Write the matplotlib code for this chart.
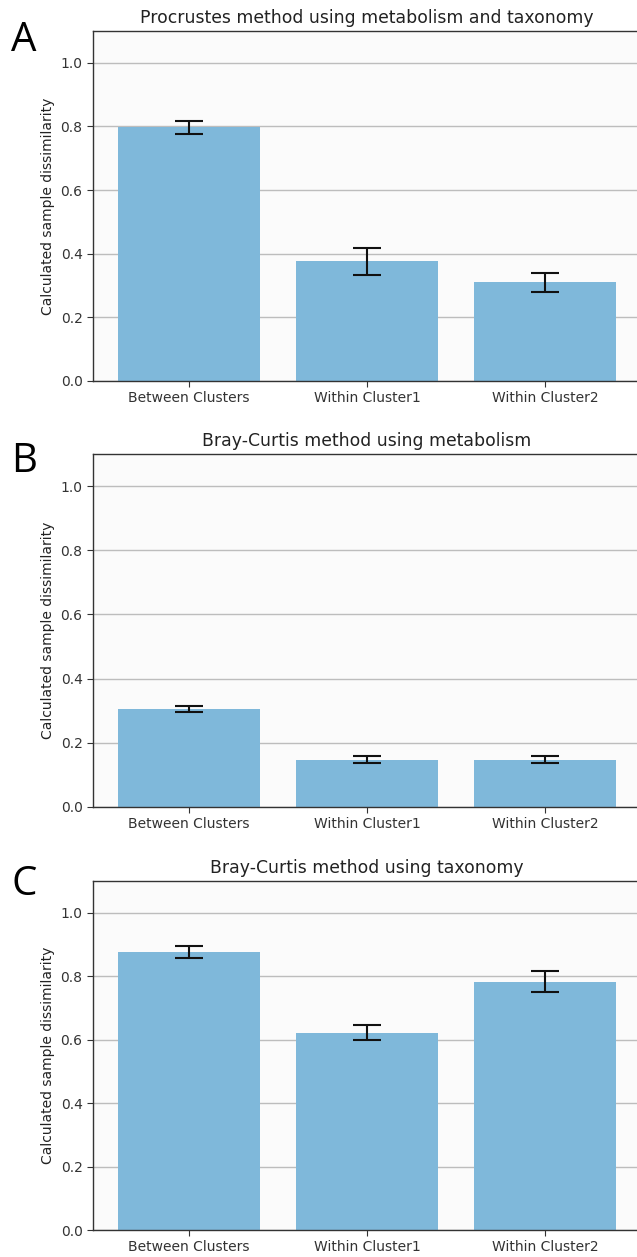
import matplotlib
matplotlib.use("Agg")
import matplotlib.pyplot as plt

categories = ["Between Clusters", "Within Cluster1", "Within Cluster2"]

titles = [
    "Procrustes method using metabolism and taxonomy",
    "Bray-Curtis method using metabolism",
    "Bray-Curtis method using taxonomy",
]
panel_letters = ["A", "B", "C"]

procrustes_means = [0.797, 0.376, 0.311]
procrustes_err = [0.020, 0.043, 0.030]

bc_metabolism_means = [0.305, 0.148, 0.148]
bc_metabolism_err = [0.010, 0.010, 0.010]

bc_taxonomy_means = [0.876, 0.622, 0.783]
bc_taxonomy_err = [0.019, 0.024, 0.033]

y_ticks = [0.0, 0.2, 0.4, 0.6, 0.8, 1.0]

W, H = 637, 1257
fig = plt.figure(figsize=(W / 100, H / 100), dpi=100)

# axes boxes in pixels: (left, top, right, bottom)
boxes = [(93, 31, 641, 381), (93, 454, 641, 807), (93, 881, 641, 1230)]
letter_pos = [(11, 51), (11, 472), (11, 895)]

panels = [
    (procrustes_means, procrustes_err),
    (bc_metabolism_means, bc_metabolism_err),
    (bc_taxonomy_means, bc_taxonomy_err),
]

bar_color = "#7fb8da"

for (means, errs), title, box, letter, lpos in zip(panels, titles, boxes, panel_letters, letter_pos):
    l, t, r, b = box
    ax = fig.add_axes([l / W, 1 - b / H, (r - l) / W, (b - t) / H])
    ax.set_facecolor("#fbfbfb")
    x = range(len(categories))
    ax.bar(x, means, width=0.8, color=bar_color, zorder=2,
           yerr=errs, capsize=10,
           error_kw=dict(ecolor="#111111", elinewidth=1.5, capthick=1.5, zorder=3))
    ax.set_xticks(list(x))
    ax.set_xticklabels(categories, fontsize=10, color="#222222")
    ax.set_yticks(y_ticks)
    ax.set_yticklabels([f"{v:.1f}" for v in y_ticks], fontsize=10, color="#222222")
    ax.set_ylim(0, 1.1)
    ax.set_xlim(-0.54, 2.54)
    ax.yaxis.grid(True, color="#bdbdbd", linewidth=1.0, zorder=0)
    ax.set_axisbelow(True)
    ax.set_ylabel("Calculated sample dissimilarity", fontsize=10, color="#222222")
    ax.set_title(title, fontsize=12.4, color="#222222", pad=6)
    for s in ax.spines.values():
        s.set_color("#333333")
        s.set_linewidth(1.0)
    ax.tick_params(axis="both", colors="#333333", length=4)
    fig.text(lpos[0] / W, 1 - lpos[1] / H, letter, fontsize=29,
             family="Open Sans", color="black", ha="left", va="baseline")

fig.savefig("out.png", dpi=100, facecolor="white")
